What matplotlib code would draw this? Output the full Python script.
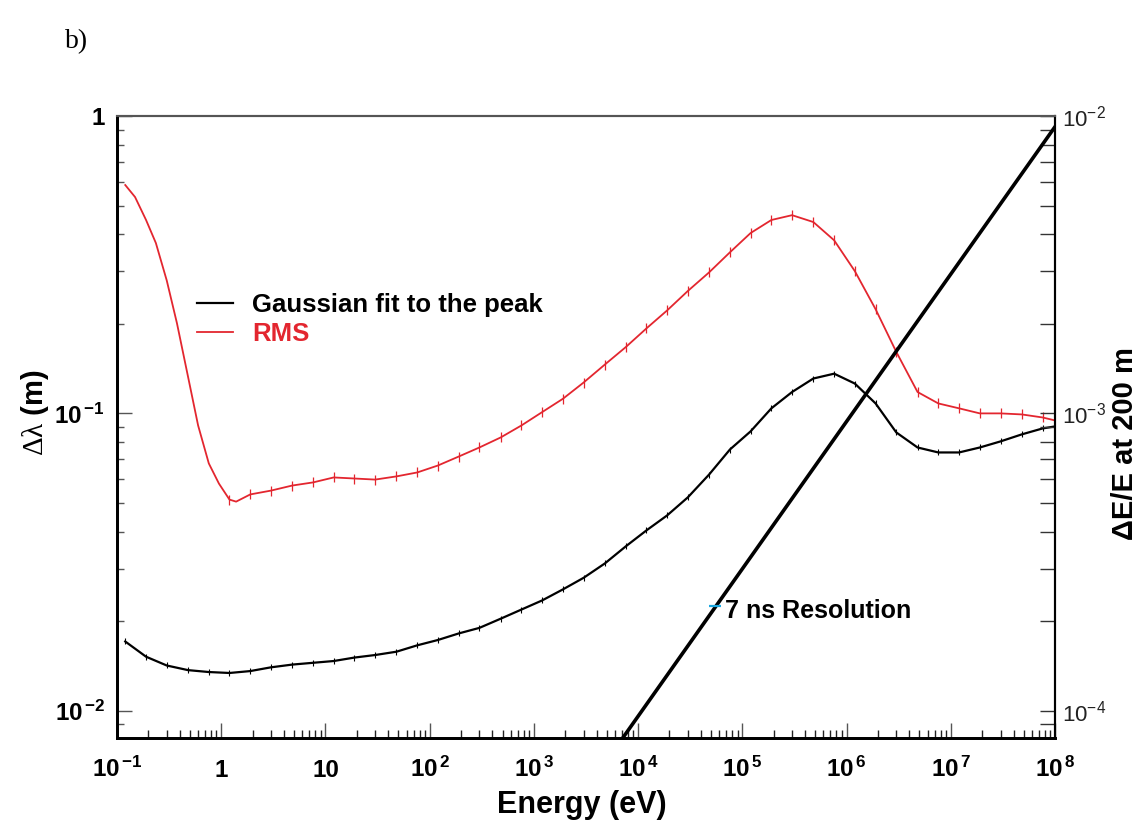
import numpy as np
import matplotlib
matplotlib.use("Agg")
import matplotlib.pyplot as plt
from matplotlib.ticker import LogLocator, NullFormatter, FixedLocator

plt.rcParams['font.family'] = ['Liberation Sans', 'DejaVu Sans']
plt.rcParams['mathtext.fontset'] = 'custom'
plt.rcParams['mathtext.rm'] = 'Liberation Serif'
plt.rcParams['mathtext.it'] = 'Liberation Serif:italic'
plt.rcParams['mathtext.bf'] = 'Liberation Sans:bold'

# ---------------- data ----------------
energy = [0.12, 0.19, 0.30, 0.48, 0.76, 1.2, 1.9, 3.0, 4.8, 7.6,
          12, 19, 30, 48, 76, 120, 190, 300, 480, 760,
          1.2e3, 1.9e3, 3.0e3, 4.8e3, 7.6e3, 1.2e4, 1.9e4, 3.0e4, 4.8e4, 7.6e4,
          1.2e5, 1.9e5, 3.0e5, 4.8e5, 7.6e5, 1.2e6, 1.9e6, 3.0e6, 4.8e6, 7.6e6,
          1.2e7, 1.9e7, 3.0e7, 4.8e7, 7.6e7, 1.0e8]

gauss = [0.0171, 0.0152, 0.0142, 0.0137, 0.0135, 0.0134, 0.0136, 0.0140, 0.0143, 0.0145,
         0.0147, 0.0151, 0.0154, 0.0158, 0.0166, 0.0173, 0.0182, 0.0190, 0.0204, 0.0219,
         0.0235, 0.0256, 0.0280, 0.0313, 0.0357, 0.0404, 0.0454, 0.0522, 0.0623, 0.0756,
         0.0870, 0.104, 0.118, 0.131, 0.136, 0.126, 0.108, 0.0863, 0.0768, 0.0739,
         0.0739, 0.0768, 0.0805, 0.0850, 0.0890, 0.0904]

rms_energy = [0.12, 0.149, 0.19, 0.236, 0.30, 0.376, 0.48, 0.60, 0.76, 0.95,
              1.2, 1.39, 1.9, 3.0, 4.8, 7.6,
              12, 19, 30, 48, 76, 120, 190, 300, 480, 760,
              1.2e3, 1.9e3, 3.0e3, 4.8e3, 7.6e3, 1.2e4, 1.9e4, 3.0e4, 4.8e4, 7.6e4,
              1.2e5, 1.9e5, 3.0e5, 4.8e5, 7.6e5, 1.2e6, 1.9e6, 3.0e6, 4.8e6, 7.6e6,
              1.2e7, 1.9e7, 3.0e7, 4.8e7, 7.6e7, 1.0e8]

rms = [0.586, 0.534, 0.447, 0.374, 0.280, 0.201, 0.133, 0.0911, 0.0679, 0.0581,
       0.0513, 0.0505, 0.0534, 0.0550, 0.0572, 0.0586,
       0.0609, 0.0604, 0.0599, 0.0614, 0.0633, 0.0668, 0.0716, 0.0768, 0.0830, 0.0911,
       0.101, 0.112, 0.127, 0.146, 0.167, 0.193, 0.222, 0.258, 0.298, 0.348,
       0.404, 0.447, 0.464, 0.440, 0.382, 0.301, 0.224, 0.161, 0.118, 0.108,
       0.104, 0.100, 0.100, 0.0992, 0.0969, 0.0947]

# 7 ns resolution line (right axis, dE/E at 200 m)
res_energy = [5.0e3, 1.0e8]
res_dee = [6.8e-5, 9.2e-3]
res_mark_energy = [5.5e4]
res_mark_dee = [2.25e-4]

x_ticks = [1e-1, 1, 10, 1e2, 1e3, 1e4, 1e5, 1e6, 1e7, 1e8]
x_ticklabels = [r'$\mathbf{10^{\,{-1}}}$', '1', '10', r'$\mathbf{10^{\,2}}$', r'$\mathbf{10^{\,3}}$',
                r'$\mathbf{10^{\,4}}$', r'$\mathbf{10^{\,5}}$', r'$\mathbf{10^{\,6}}$',
                r'$\mathbf{10^{\,7}}$', r'$\mathbf{10^{\,8}}$']
y_ticks = [1e-2, 1e-1, 1]
y_ticklabels = [r'$\mathbf{10^{\,{-2}}}$', r'$\mathbf{10^{\,{-1}}}$', '1']
y2_ticks = [1e-4, 1e-3, 1e-2]
y2_ticklabels = [r'$\mathregular{10^{-4}}$', r'$\mathregular{10^{-3}}$', r'$\mathregular{10^{-2}}$']

RED = '#e3262f'

# ---------------- figure ----------------
fig = plt.figure(figsize=(11.39, 8.31), dpi=100)
ax = fig.add_axes([117/1139, 1-738/831, (1055-117)/1139, (738-116)/831])
ax.set_xscale('log')
ax.set_yscale('log')
ax.set_xlim(0.1, 1e8)
ylo, yhi = 0.0081, 1.0
ax.set_ylim(ylo, yhi)

ax.plot(energy, gauss, color='black', lw=1.6, marker='|', ms=4, mew=0.8,
        label='Gaussian fit to the peak', zorder=3)
rms_marks = [i for i, e in enumerate(rms_energy) if e in energy and e >= 1.0]
ax.plot(rms_energy, rms, color=RED, lw=1.3, marker='|', ms=7, mew=0.9,
        markevery=rms_marks, label='RMS', zorder=3)

# right axis
ax2 = ax.twinx()
ax2.set_yscale('log')
ax2.set_ylim(ylo * 0.01, yhi * 0.01)
ax2.plot(res_energy, res_dee, color='black', lw=2.6, zorder=4)
ax2.plot(res_mark_energy, res_mark_dee, linestyle='none', marker='_', ms=9, mew=1.6,
         color='#1aa7e0', zorder=5)
ax.text(6.8e4, 0.0217, '7 ns Resolution', fontsize=18, fontweight='bold', va='center', ha='left')

# ticks - bottom
ax.xaxis.set_major_locator(FixedLocator(x_ticks))
ax.set_xticklabels(x_ticklabels)
ax.xaxis.set_minor_locator(LogLocator(base=10, subs=np.arange(2, 10), numticks=100))
ax.xaxis.set_minor_formatter(NullFormatter())
ax.tick_params(axis='x', which='major', direction='in', length=11, width=1.0, color='#555',
               top=False, labelsize=17.5, pad=28)
ax.tick_params(axis='x', which='minor', direction='in', length=6, width=1.0, color='#222', top=False)
for lab in ax.get_xticklabels():
    lab.set_fontweight('bold')
    lab.set_va('baseline')

# ticks - left
ax.yaxis.set_major_locator(FixedLocator(y_ticks))
ax.set_yticklabels(y_ticklabels)
ax.yaxis.set_minor_locator(LogLocator(base=10, subs=np.arange(2, 10), numticks=100))
ax.yaxis.set_minor_formatter(NullFormatter())
ax.tick_params(axis='y', which='major', direction='in', length=11, width=1.0, color='#555',
               right=False, labelsize=17.5, pad=9)
ax.tick_params(axis='y', which='minor', direction='in', length=5, width=1.0, color='#555', right=False)
for lab in ax.get_yticklabels():
    lab.set_fontweight('bold')

# ticks - right
ax2.yaxis.set_major_locator(FixedLocator(y2_ticks))
ax2.set_yticklabels(y2_ticklabels)
ax2.yaxis.set_minor_locator(LogLocator(base=10, subs=np.arange(2, 10), numticks=100))
ax2.yaxis.set_minor_formatter(NullFormatter())
ax2.tick_params(axis='y', which='major', direction='in', length=11, width=1.0, color='#333',
               labelsize=16, pad=5, labelcolor='#222')
ax2.tick_params(axis='y', which='minor', direction='in', length=11, width=1.0, color='#333')

# spines
for a in (ax, ax2):
    a.spines['left'].set_linewidth(2.0)
    a.spines['bottom'].set_linewidth(2.0)
    a.spines['top'].set_linewidth(1.5)
    a.spines['top'].set_color('#555')
    a.spines['right'].set_linewidth(1.5)

# labels
ax.set_xlabel('Energy (eV)', fontsize=22, fontweight='bold', va='center')
ax.xaxis.set_label_coords(0.4957, -0.108)
ax.set_ylabel(r'$\mathrm{\Delta\lambda}$ (m)', fontsize=21, fontweight='bold', va='center')
ax.yaxis.set_label_coords(-0.0874, 0.5225)
ax2.set_ylabel('ΔE/E at 200 m', fontsize=21, fontweight='bold', rotation=90, va='center')
ax2.yaxis.set_label_coords(1.0746, 0.474)

# legend
leg = ax.legend(loc='upper left', bbox_to_anchor=(0.0853, 0.716), frameon=False,
                handlelength=1.4, handletextpad=0.75, labelspacing=0.2,
                borderpad=0, borderaxespad=0, prop={'weight': 'bold', 'size': 18.5})
for txt, col in zip(leg.get_texts(), ['black', RED]):
    txt.set_color(col)
for h in leg.get_lines():
    h.set_marker('')

fig.text(65/1139, 1-42/831, 'b)', family='Liberation Serif', fontsize=20, va='center', ha='left')

fig.savefig('out.png', dpi=100)
